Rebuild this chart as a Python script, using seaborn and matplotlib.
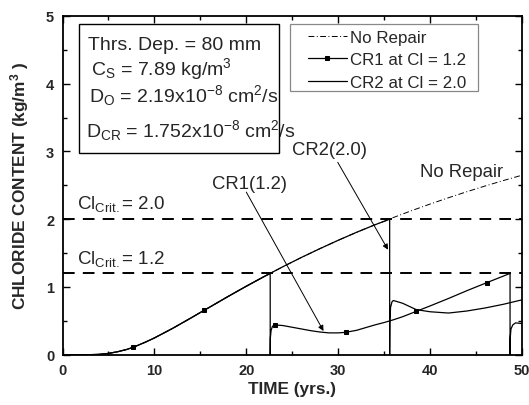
import numpy as np
import pandas as pd
import matplotlib
matplotlib.use("Agg")
import matplotlib.pyplot as plt
import seaborn as sns
from matplotlib.patches import Rectangle
from matplotlib.ticker import MultipleLocator

# ---------------- data ----------------
norepair_t = [0, 2, 3, 4, 5, 6, 7, 8, 9, 10, 12, 14, 16, 18, 20, 22, 24, 26, 28, 30,
              32, 34, 35.6, 36, 38, 40, 42, 44, 46, 48, 50]
norepair_c = [0, 0, 0.0006, 0.005, 0.019, 0.044, 0.078, 0.127, 0.184, 0.247, 0.390,
              0.544, 0.701, 0.858, 1.011, 1.158, 1.300, 1.436, 1.565, 1.689,
              1.807, 1.918, 2.0, 2.025, 2.127, 2.224, 2.317, 2.406, 2.491, 2.572, 2.650]

cr1_t = [0, 2, 3, 4, 5, 6, 7, 7.7, 8, 9, 10, 12, 14, 15.4, 16, 18, 20, 22, 22.6,
         22.6, 22.62, 22.7, 22.85, 23.1, 24, 25, 26, 27, 28, 29, 30, 30.8, 32, 33, 34,
         35, 36, 37, 38.5, 40, 42, 44, 46.2, 48.7,
         48.7, 48.72, 48.8, 49.0, 49.3, 50]
cr1_c = [0, 0, 0.0006, 0.005, 0.019, 0.044, 0.078, 0.108, 0.127, 0.184, 0.247, 0.390,
         0.544, 0.656, 0.701, 0.858, 1.011, 1.158, 1.2,
         0, 0.25, 0.36, 0.42, 0.44, 0.43, 0.405, 0.38, 0.355, 0.335, 0.322, 0.322, 0.33,
         0.36, 0.40, 0.44, 0.475, 0.515, 0.56, 0.64, 0.72, 0.83, 0.945, 1.065, 1.2,
         0, 0.25, 0.38, 0.44, 0.47, 0.46]
cr1_marker_t = [7.7, 15.4, 23.1, 30.8, 38.5, 46.2]

cr2_t = [0, 2, 3, 4, 5, 6, 7, 8, 9, 10, 12, 14, 16, 18, 20, 22, 24, 26, 28, 30,
         32, 34, 35.6,
         35.6, 35.62, 35.7, 35.85, 36.0, 37, 38.5, 40, 42, 44, 46, 48, 50]
cr2_c = [0, 0, 0.0006, 0.005, 0.019, 0.044, 0.078, 0.127, 0.184, 0.247, 0.390,
         0.544, 0.701, 0.858, 1.011, 1.158, 1.300, 1.436, 1.565, 1.689,
         1.807, 1.918, 2.0,
         0, 0.5, 0.70, 0.78, 0.80, 0.76, 0.665, 0.634, 0.615, 0.645, 0.69, 0.745, 0.81]

crit_levels = [1.2, 2.0]
crit_labels = ["1.2", "2.0"]

legend_labels = ["No Repair", "CR1 at Cl = 1.2", "CR2 at Cl = 2.0"]

# ---------------- style ----------------
sns.set_style("ticks")
plt.rcParams["font.family"] = ["Liberation Sans", "DejaVu Sans"]
plt.rcParams["mathtext.fontset"] = "custom"
plt.rcParams["mathtext.rm"] = "Liberation Sans"
plt.rcParams["mathtext.it"] = "Liberation Sans:italic"
plt.rcParams["mathtext.bf"] = "Liberation Sans:bold"

fig = plt.figure(figsize=(5.29, 4.06), dpi=100)
ax = fig.add_axes([62.5 / 529, 1 - 355.7 / 406, 459.5 / 529, 338.7 / 406])

df_nr = pd.DataFrame({"t": norepair_t, "c": norepair_c})
df_cr1 = pd.DataFrame({"t": cr1_t, "c": cr1_c})
df_cr2 = pd.DataFrame({"t": cr2_t, "c": cr2_c})

lw = 0.9
sns.lineplot(data=df_nr, x="t", y="c", ax=ax, sort=False, estimator=None,
             color="black", lw=0.7, dashes=False, linestyle=(0, (6, 2.5, 1, 2.5)))
sns.lineplot(data=df_cr2, x="t", y="c", ax=ax, sort=False, estimator=None,
             color="black", lw=lw)
mk_idx = [cr1_t.index(m) for m in cr1_marker_t]
sns.lineplot(data=df_cr1, x="t", y="c", ax=ax, sort=False, estimator=None,
             color="black", lw=lw, marker="s", markersize=3.0, markevery=mk_idx,
             markeredgecolor="black", markerfacecolor="black")

for lvl in crit_levels:
    ax.axhline(lvl, color="black", lw=1.4, linestyle=(0, (6, 4.2)))

# critical labels
for lvl, lab, ytxt in zip(crit_levels, crit_labels, [1.35, 2.17]):
    ax.text(1.6, ytxt, r"Cl$_{\mathrm{Crit.}}$= " + lab, fontsize=13.5,
            ha="left", va="baseline")

# annotations
ax.annotate("", xy=(28.4, 0.35), xytext=(20.0, 2.40),
            arrowprops=dict(arrowstyle="-|>", lw=0.7, color="black",
                            mutation_scale=8, shrinkA=0, shrinkB=0))
ax.annotate("", xy=(35.42, 1.55), xytext=(29.95, 2.84),
            arrowprops=dict(arrowstyle="-|>", lw=0.7, color="black",
                            mutation_scale=8, shrinkA=0, shrinkB=0))
ax.text(20.4, 2.52, "CR1(1.2)", fontsize=13.3, ha="center", va="center")
ax.text(29.1, 3.03, "CR2(2.0)", fontsize=13.3, ha="center", va="center")
ax.text(43.4, 2.70, "No Repair", fontsize=13.3, ha="center", va="center")

# parameter box
ax.add_patch(Rectangle((0.036, 0.5955), 0.435, 0.3805, transform=ax.transAxes,
                       fill=False, edgecolor="black", lw=1.0, zorder=5))
fs_box = 14
ax.text(0.0555, 0.9026, "Thrs. Dep. = 80 mm", transform=ax.transAxes,
        fontsize=fs_box, ha="left", va="baseline")
ax.text(0.0610, 0.8288, r"C$_\mathrm{S}$ = 7.89 kg/m$^\mathrm{3}$", transform=ax.transAxes,
        fontsize=fs_box, ha="left", va="baseline")
ax.text(0.0581, 0.750, r"D$_\mathrm{O}$ = 2.19x10$^\mathrm{-8}$ cm$^\mathrm{2}$/s",
        transform=ax.transAxes, fontsize=fs_box, ha="left", va="baseline")
ax.text(0.0512, 0.6466, r"D$_\mathrm{CR}$ = 1.752x10$^\mathrm{-8}$ cm$^\mathrm{2}$/s",
        transform=ax.transAxes, fontsize=fs_box, ha="left", va="baseline")

# legend (frame drawn separately)
ax.add_patch(Rectangle((0.495, 0.7786), 0.409, 0.1974, transform=ax.transAxes,
                       fill=False, edgecolor="#888888", lw=0.9, zorder=5))
lines = ax.get_lines()
handles = [lines[0], lines[2], lines[1]]
leg = ax.legend(handles, legend_labels, loc="upper left",
                bbox_to_anchor=(0.534, 0.960), borderaxespad=0, fontsize=12.2,
                frameon=False, handlelength=2.3, handletextpad=0.2,
                labelspacing=0.45, borderpad=0, numpoints=1)

# axes
ax.set_xlim(0, 50)
ax.set_ylim(0, 5)
ax.xaxis.set_major_locator(MultipleLocator(10))
ax.xaxis.set_minor_locator(MultipleLocator(5))
ax.yaxis.set_major_locator(MultipleLocator(1))
ax.yaxis.set_minor_locator(MultipleLocator(0.5))
ax.tick_params(which="both", direction="in", top=True, right=True, color="black")
ax.tick_params(which="major", length=5, width=1.0, labelsize=10.5, pad=6)
ax.tick_params(which="minor", length=3, width=1.0)
for lab in ax.get_xticklabels() + ax.get_yticklabels():
    lab.set_fontweight("bold")
for sp in ax.spines.values():
    sp.set_visible(True)
    sp.set_linewidth(1.3)
    sp.set_color("black")

ax.set_xlabel("TIME (yrs.)", fontsize=12.4, fontweight="bold", labelpad=3)
ax.set_ylabel(r"CHLORIDE CONTENT (kg/m$^\mathbf{3}$ )", fontsize=12.4,
              fontweight="bold", labelpad=11)

fig.savefig("out.png", dpi=100)
